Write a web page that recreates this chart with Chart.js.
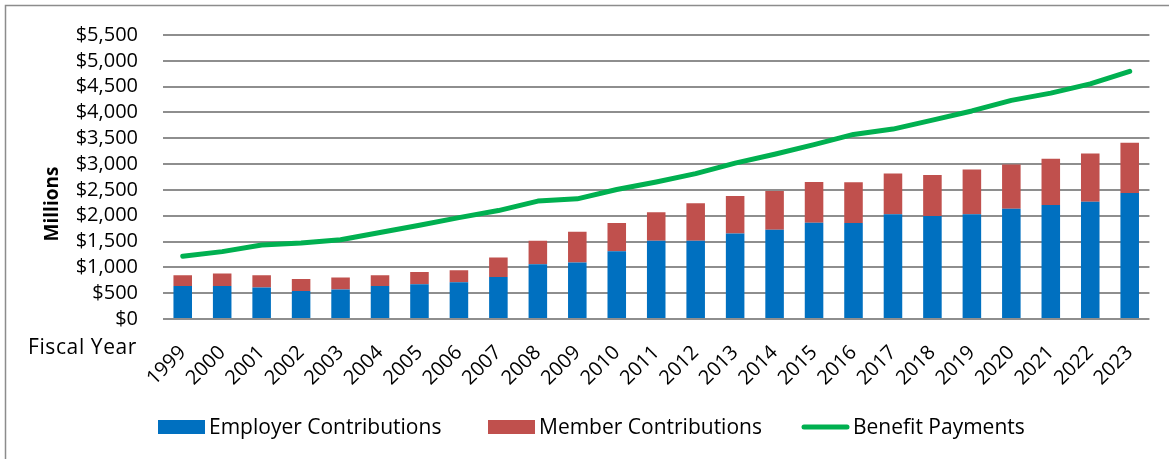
<!DOCTYPE html>
<html>
<head>
<meta charset="utf-8">
<title>Contributions and Benefit Payments</title>
<script src="https://cdn.jsdelivr.net/npm/chart.js@4.4.1/dist/chart.umd.min.js"></script>
<style>
    html, body { margin: 0; padding: 0; background: #fff; }
    #wrap { position: relative; width: 1169px; height: 459px; }
</style>
</head>
<body>
<div id="wrap"><canvas id="chart" width="1169" height="459"></canvas></div>
<script>
// ---- DATA (millions of dollars) ----

const years = ["1999", "2000", "2001", "2002", "2003", "2004", "2005", "2006", "2007",
    "2008", "2009", "2010", "2011", "2012", "2013", "2014", "2015", "2016", "2017",
    "2018", "2019", "2020", "2021", "2022", "2023"];

const employerContrib = [640, 640, 610, 540, 570, 640, 675, 710, 812, 1060, 1095, 1310,
    1515, 1515, 1656, 1727, 1864, 1861, 2028, 1995, 2028, 2135, 2206, 2270, 2442];

const memberContrib = [205, 240, 235, 235, 235, 205, 235, 235, 380, 455, 593, 550,
    551, 725, 724, 754, 787, 787, 792, 793, 869, 858, 896, 934, 973];

const benefitPayments = [1215, 1305, 1433, 1471, 1535, 1675, 1817, 1963, 2100, 2283,
    2327, 2507, 2654, 2815, 3018, 3191, 3377, 3575, 3678, 3851, 4029, 4234, 4374,
    4553, 4797];

const yMin = 0;
const yMax = 5500;
const yStep = 500;

const seriesNames = ["Employer Contributions", "Member Contributions", "Benefit Payments"];

// ---- STYLE ----
const FONT = "'Open Sans', sans-serif";
const gridColor = "#8e8e8e";
const legendX = [158, 488, 802];   // left edge of each legend item
const legendY = 427;

Chart.defaults.font.family = FONT;
Chart.defaults.color = "#000";

// frame, axis captions and legend drawn on top of the chart
const extras = {
    id: "extras",
    afterDraw(chart) {
        const ctx = chart.ctx;
        ctx.save();

        // outer frame (only top and left edges are visible)
        ctx.strokeStyle = "#8c8c8c";
        ctx.lineWidth = 1.5;
        ctx.beginPath();
        ctx.moveTo(5.5, 459);
        ctx.lineTo(5.5, 5.5);
        ctx.lineTo(1169, 5.5);
        ctx.stroke();

        ctx.fillStyle = "#000";
        ctx.textBaseline = "middle";

        // "Fiscal Year"
        ctx.font = "21px " + FONT;
        ctx.textAlign = "left";
        ctx.letterSpacing = "0.6px";
        ctx.fillText("Fiscal Year", 28, 348);
        ctx.letterSpacing = "0px";

        // legend
        ctx.font = "21px " + FONT;
        chart.data.datasets.forEach((ds, i) => {
            const x = legendX[i];
            if (ds.type === "line") {
                ctx.strokeStyle = ds.borderColor;
                ctx.lineWidth = 5;
                ctx.lineCap = "round";
                ctx.beginPath();
                ctx.moveTo(x + 2, legendY);
                ctx.lineTo(x + 45, legendY);
                ctx.stroke();
            } else {
                ctx.fillStyle = ds.backgroundColor;
                ctx.fillRect(x, legendY - 7, 47, 14);
            }
            ctx.fillStyle = "#000";
            ctx.fillText(ds.label, x + 51, legendY + 1);
        });

        // "Millions"
        ctx.font = "bold 19px " + FONT;
        ctx.textAlign = "center";
        ctx.translate(53, 204);
        ctx.rotate(-Math.PI / 2);
        ctx.fillText("Millions", 0, 0);

        ctx.restore();
    }
};

const ctx = document.getElementById("chart").getContext("2d");
new Chart(ctx, {
    data: {
        labels: years,
        datasets: [
            {
                type: "bar",
                label: seriesNames[0],
                data: employerContrib,
                backgroundColor: "#0070C0",
                stack: "contrib",
                order: 2,
                barPercentage: 0.47,
                categoryPercentage: 1
            },
            {
                type: "bar",
                label: seriesNames[1],
                data: memberContrib,
                backgroundColor: "#C0504D",
                stack: "contrib",
                order: 2,
                barPercentage: 0.47,
                categoryPercentage: 1
            },
            {
                type: "line",
                label: seriesNames[2],
                data: benefitPayments,
                borderColor: "#00B050",
                backgroundColor: "#00B050",
                borderWidth: 5,
                borderCapStyle: "round",
                borderJoinStyle: "round",
                pointRadius: 0,
                tension: 0,
                stack: "benefit",
                order: 1
            }
        ]
    },
    options: {
        responsive: false,
        animation: false,
        layout: { padding: { top: 32, right: 16, bottom: 0, left: 0 } },
        plugins: {
            legend: { display: false },
            tooltip: { enabled: false }
        },
        scales: {
            x: {
                stacked: true,
                offset: true,
                grid: { display: false, drawTicks: false },
                border: { display: false },
                ticks: {
                    font: { size: 20 },
                    minRotation: 45,
                    maxRotation: 45,
                    autoSkip: false,
                    padding: 22
                },
                afterFit(scale) { scale.height = 140; }
            },
            y: {
                stacked: true,
                min: yMin,
                max: yMax,
                border: { display: false },
                grid: { color: gridColor, lineWidth: 2, drawTicks: false },
                ticks: {
                    stepSize: yStep,
                    autoSkip: false,
                    font: { size: 20, lineHeight: 1 },
                    padding: 25,
                    callback: v => "$" + v.toLocaleString("en-US")
                },
                afterFit(scale) { scale.width = 163; }
            }
        }
    },
    plugins: [extras]
});
</script>
</body>
</html>
